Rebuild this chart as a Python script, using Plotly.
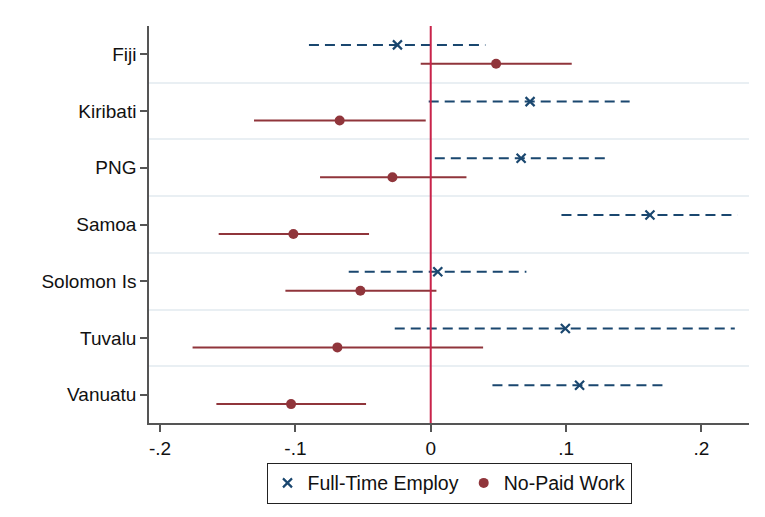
import plotly.graph_objects as go

categories = ["Fiji", "Kiribati", "PNG", "Samoa", "Solomon Is", "Tuvalu", "Vanuatu"]

ft_coef = [-0.0246, 0.0734, 0.0668, 0.1620, 0.0052, 0.0995, 0.1100]
ft_lo = [-0.0900, -0.0015, 0.0030, 0.0966, -0.0606, -0.0266, 0.0456]
ft_hi = [0.0404, 0.1470, 0.1290, 0.2267, 0.0707, 0.2247, 0.1747]

np_coef = [0.0483, -0.0673, -0.0283, -0.1015, -0.0520, -0.0690, -0.1032]
np_lo = [-0.0074, -0.1306, -0.0818, -0.1567, -0.1074, -0.1760, -0.1584]
np_hi = [0.1042, -0.0037, 0.0264, -0.0456, 0.0042, 0.0387, -0.0478]

x_tickvals = [-0.2, -0.1, 0, 0.1, 0.2]
x_ticktext = ["-.2", "-.1", "0", ".1", ".2"]

NAVY = "#1a476f"
MAROON = "#90353b"
FONT = "Liberation Sans, Arial, sans-serif"
OFF = 0.167

idx = list(range(len(categories)))
y_ft = [i - OFF for i in idx]
y_np = [i + OFF for i in idx]


def seg(lo, hi, ys):
    xs, yy = [], []
    for a, b, y in zip(lo, hi, ys):
        xs += [a, b, None]
        yy += [y, y, None]
    return xs, yy


fig = go.Figure()

xs, yy = seg(ft_lo, ft_hi, y_ft)
fig.add_trace(go.Scatter(x=xs, y=yy, mode="lines", showlegend=False, hoverinfo="skip",
                         line=dict(color=NAVY, width=2, dash="10px,6px")))
xs, yy = seg(np_lo, np_hi, y_np)
fig.add_trace(go.Scatter(x=xs, y=yy, mode="lines", showlegend=False, hoverinfo="skip",
                         line=dict(color=MAROON, width=2)))

fig.add_trace(go.Scatter(x=ft_coef, y=y_ft, mode="markers", name="Full-Time Employ",
                         marker=dict(symbol="x-thin", size=9, color=NAVY,
                                     line=dict(color=NAVY, width=2.2))))
fig.add_trace(go.Scatter(x=np_coef, y=y_np, mode="markers", name="No-Paid Work",
                         marker=dict(symbol="circle", size=10, color=MAROON)))

fig.add_shape(type="line", xref="x", yref="paper", x0=0, x1=0, y0=0, y1=1,
              line=dict(color="#c8234a", width=2), layer="above")

fig.update_layout(
    width=757, height=509,
    margin=dict(l=141, r=16, t=18, b=94),
    paper_bgcolor="white", plot_bgcolor="white",
    font=dict(family=FONT, size=19, color="#111111"),
    xaxis=dict(range=[-0.2082, 0.2352], tickvals=x_tickvals, ticktext=x_ticktext,
               showgrid=False, zeroline=False, showline=True, linecolor="#555555", linewidth=1.5,
               ticks="outside", ticklen=7, tickcolor="#555555", tickwidth=1.5,
               tickfont=dict(size=19, family=FONT)),
    yaxis=dict(range=[len(categories) - 0.5, -0.5], tickvals=idx, ticktext=categories,
               showgrid=False, zeroline=False, showline=True, linecolor="#555555", linewidth=1.5,
               ticks="outside", ticklen=7, tickcolor="#555555", tickwidth=1.5,
               tickfont=dict(size=19, family=FONT),
               minor=dict(tickvals=[i + 0.5 for i in idx[:-1]], showgrid=True,
                          gridcolor="#e9eff3", gridwidth=2, ticks="")),
    legend=dict(orientation="h", x=0.5, xanchor="center", y=-0.1, yanchor="top",
                bordercolor="#222222", borderwidth=1, bgcolor="white",
                font=dict(size=19.5, family=FONT), itemwidth=30, tracegroupgap=0),
    showlegend=True,
)

fig.write_html("out.html")
